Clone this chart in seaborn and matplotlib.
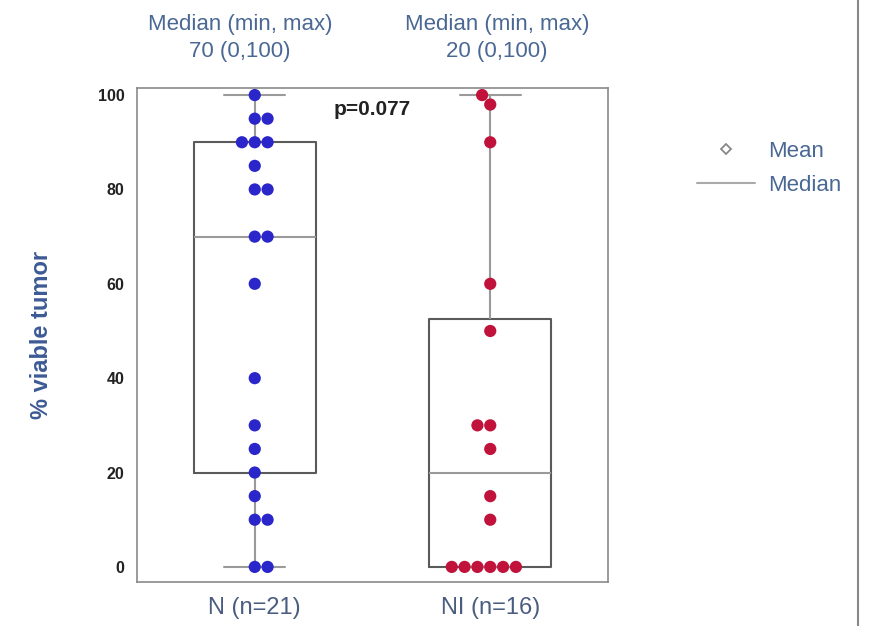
import matplotlib
matplotlib.use("Agg")
import matplotlib.pyplot as plt
from matplotlib.lines import Line2D
import seaborn as sns
import pandas as pd

# Data
groups = ["N (n=21)", "NI (n=16)"]
n_values = [100, 95, 95, 90, 90, 90, 85, 80, 80, 70, 70, 60, 40, 30, 25, 20, 15, 10, 10, 0, 0]
ni_values = [100, 98, 90, 60, 50, 30, 30, 25, 15, 10, 0, 0, 0, 0, 0, 0]
header_lines = ["Median (min, max)\n70 (0,100)", "Median (min, max)\n20 (0,100)"]
p_text = "p=0.077"
y_ticks = [0, 20, 40, 60, 80, 100]
point_colors = ["#2a26c9", "#c0123a"]

df = pd.DataFrame({
    "group": [groups[0]] * len(n_values) + [groups[1]] * len(ni_values),
    "value": n_values + ni_values,
})

sns.set_theme(style="white")
plt.rcParams["font.family"] = ["Liberation Sans", "DejaVu Sans"]

fig = plt.figure(figsize=(8.74, 6.26), dpi=100)
ax = fig.add_axes([137 / 874, 1 - 582 / 626, 471 / 874, 494 / 626])

sns.boxplot(data=df, x="group", y="value", order=groups, ax=ax,
            fill=False, width=0.52, whis=(0, 100), showfliers=False,
            color="#5a5a5a", linewidth=1.5,
            medianprops=dict(color="#9a9a9a", linewidth=1.5),
            whiskerprops=dict(color="#9a9a9a", linewidth=1.5),
            capprops=dict(color="#9a9a9a", linewidth=1.5))

sns.swarmplot(data=df, x="group", y="value", order=groups, hue="group",
              hue_order=groups, palette=point_colors, size=8.8, ax=ax,
              legend=False, linewidth=0)

ax.set_xlim(-0.5, 1.5)
ax.set_ylim(-3.2, 101.5)
ax.set_yticks(y_ticks)
ax.set_yticklabels([str(t) for t in y_ticks], fontsize=11.5, fontweight="bold", color="#222222")
ax.tick_params(axis="y", length=3, color="#666666", pad=6)
ax.tick_params(axis="x", length=0, pad=11, labelsize=17, labelcolor="#4a5d80")
ax.set_xlabel("")
ax.set_ylabel("% viable tumor", fontsize=17, fontweight="bold", color="#3c5a94", labelpad=32)
for s in ax.spines.values():
    s.set_visible(True)
    s.set_color("#8a8a8a")
    s.set_linewidth(1.2)

ax.text(0.5, 97, p_text, ha="center", va="center", fontsize=15, fontweight="bold", color="#222222")

for xpix, txt in zip([240, 497], header_lines):
    fig.text(xpix / 874, 1 - 38 / 626, txt, ha="center", va="center", fontsize=16,
             color="#4a6894", linespacing=1.35)

handles = [
    Line2D([], [], marker="D", markersize=5, markerfacecolor="white", markeredgecolor="#888888",
           markeredgewidth=1.3, linestyle="none"),
    Line2D([], [], color="#aaaaaa", linewidth=1.5),
]
fig.legend(handles, ["Mean", "Median"], loc="upper left", bbox_to_anchor=(688 / 874, 1 - 132 / 626),
           frameon=False, fontsize=16, labelcolor="#4a6894", handlelength=2.6, handletextpad=0.6,
           labelspacing=0.6, borderaxespad=0)

fig.add_artist(Line2D([858 / 874, 858 / 874], [0, 1], color="#888888", linewidth=1.5))

fig.savefig("out.png", dpi=100)
